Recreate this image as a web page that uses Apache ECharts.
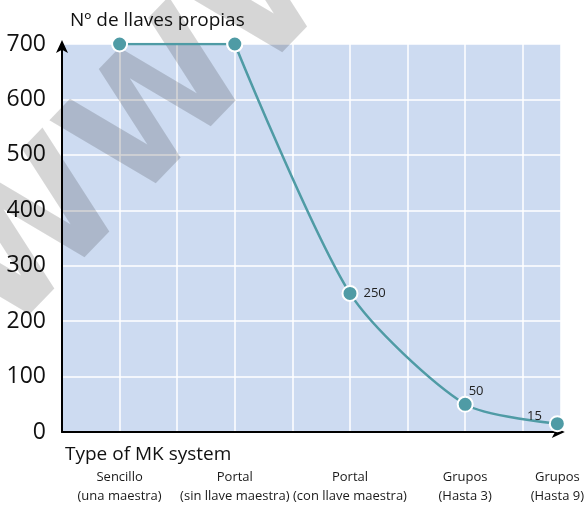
<!DOCTYPE html>
<html>
<head>
<meta charset="utf-8">
<script src="https://cdn.jsdelivr.net/npm/echarts@6/dist/echarts.min.js"></script>
<style>
  html, body { margin: 0; padding: 0; background: #fff; }
  #chart { width: 587px; height: 506px; }
</style>
</head>
<body>
<div id="chart"></div>
<script>
// System stages along the horizontal axis (position on the grid, label)
const stageNames = [
  'Sencillo\n(una maestra)',
  'Portal\n(sin llave maestra)',
  'Portal\n(con llave maestra)',
  'Grupos\n(Hasta 3)',
  'Grupos\n(Hasta 9)'
];
const stagePos = [1, 3, 5, 7, 8.6];
// Number of own keys per system type
const keyCounts = [700, 700, 250, 50, 15];
const valueLabelShown = [false, false, true, true, true];
// Y axis ticks
const yTicks = [0, 100, 200, 300, 400, 500, 600, 700];

const FONT = 'Open Sans';
const TEAL = '#4f9ba5';
const labelPlacement = ['right', 'right', 'right', 'right', 'left'];
const labelOffset = [[0, 0], [0, 0], [-4, 0], [-14, -13], [2, -7]];

const points = stagePos.map((x, i) => ({
  value: [x, keyCounts[i]],
  label: {
    show: valueLabelShown[i],
    position: labelPlacement[i],
    offset: labelOffset[i],
    distance: 9
  }
}));

// The first two systems are joined by a straight plateau, the rest by a curve
const plateau = points.slice(0, 2);
const decline = points.slice(1);

const markerStyle = {
  symbol: 'circle',
  symbolSize: 15,
  lineStyle: { color: TEAL, width: 2.5 },
  itemStyle: { color: TEAL, borderColor: '#ffffff', borderWidth: 2 },
  label: {
    fontFamily: FONT, fontSize: 13, color: '#222',
    formatter: (p) => String(p.value[1])
  }
};

const chart = echarts.init(document.getElementById('chart'), null, { renderer: 'canvas' });
chart.setOption({
  animation: false,
  backgroundColor: '#ffffff',
  textStyle: { fontFamily: FONT },
  title: [
    { text: 'Nº de llaves propias', left: 65, top: 6,
      textStyle: { fontFamily: FONT, fontSize: 19, fontWeight: 'normal', color: '#111' } },
    { text: 'Type of MK system', left: 60, top: 440,
      textStyle: { fontFamily: FONT, fontSize: 19, fontWeight: 'normal', color: '#111' } }
  ],
  grid: {
    left: 62, top: 44, right: 26, bottom: 70,
    show: true, backgroundColor: '#cddbf1', borderWidth: 0
  },
  xAxis: {
    type: 'value', min: 0, max: 8.66, interval: 1,
    axisLine: { show: true, onZero: false, lineStyle: { color: '#000', width: 2 },
      symbol: ['none', 'arrow'], symbolSize: [9, 13], symbolOffset: [0, 4] },
    axisTick: { show: false },
    splitLine: { show: true, lineStyle: { color: '#ffffff', width: 1.5 } },
    axisLabel: {
      customValues: stagePos,
      formatter: (v) => stageNames[stagePos.indexOf(v)] || '',
      margin: 36, fontFamily: FONT, fontSize: 13, lineHeight: 19, color: '#1a1a1a',
      hideOverlap: false
    }
  },
  yAxis: {
    type: 'value', min: yTicks[0], max: yTicks[yTicks.length - 1], interval: 100,
    axisLine: { show: true, lineStyle: { color: '#000', width: 2 },
      symbol: ['none', 'arrow'], symbolSize: [9, 13], symbolOffset: [0, 4] },
    axisTick: { show: false },
    splitLine: { show: true, lineStyle: { color: '#ffffff', width: 1.5 } },
    axisLabel: { fontFamily: FONT, fontSize: 23, color: '#111', margin: 16 }
  },
  graphic: [{
    type: 'text',
    z: 1,
    x: 165, y: 112,
    rotation: 46 * Math.PI / 180,
    style: {
      text: 'WWW',
      font: 'bold 165px "DejaVu Sans"',
      fill: 'rgba(0,0,0,0.16)',
      align: 'center',
      verticalAlign: 'middle'
    }
  }],
  series: [
    Object.assign({ type: 'line', data: plateau, smooth: false, z: 5 }, markerStyle),
    Object.assign({ type: 'line', data: decline, smooth: 0.25, z: 5 }, markerStyle)
  ]
});
</script>
</body>
</html>
